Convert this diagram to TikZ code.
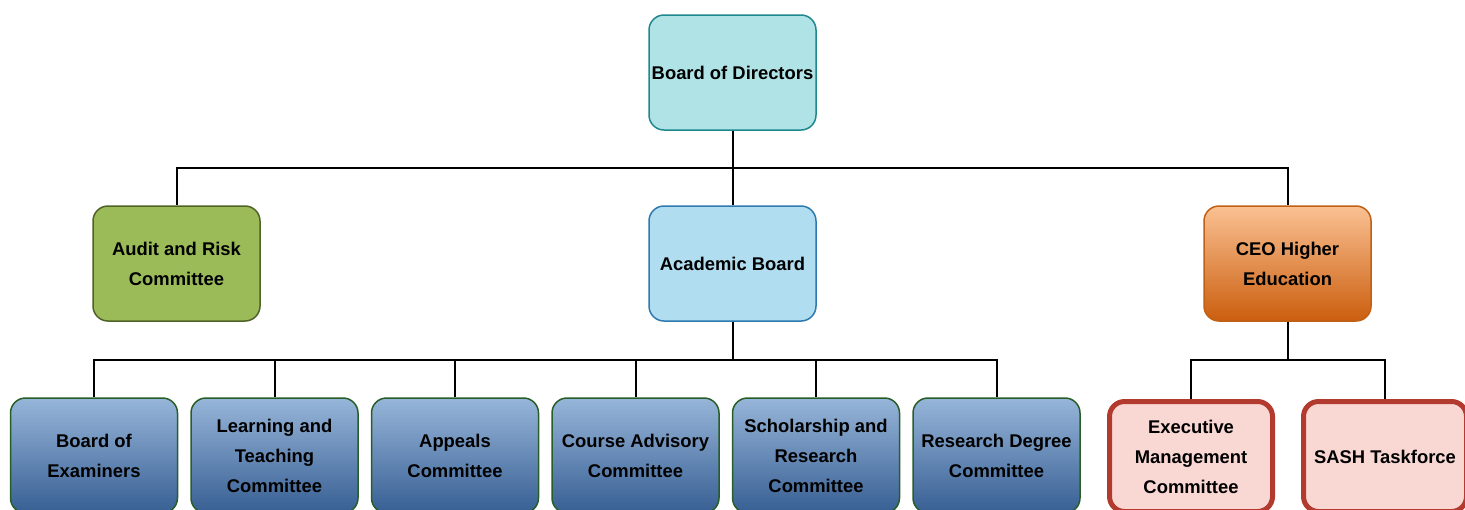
\documentclass[tikz,border=0pt]{standalone}
\usepackage{fontspec}
\setmainfont{Liberation Sans}
\usetikzlibrary{positioning,calc}

\definecolor{bodfill}{HTML}{B0E3E6}
\definecolor{boddraw}{HTML}{1F8790}
\definecolor{auditfill}{HTML}{9BBB59}
\definecolor{auditdraw}{HTML}{4F6228}
\definecolor{acadfill}{HTML}{B1DDF0}
\definecolor{acaddraw}{HTML}{2E7AAE}
\definecolor{ceotop}{HTML}{FAC193}
\definecolor{ceobot}{HTML}{CB5E0E}
\definecolor{ceodraw}{HTML}{C06015}
\definecolor{subtop}{HTML}{97B5D9}
\definecolor{subbot}{HTML}{375F93}
\definecolor{subdraw}{HTML}{275E27}
\definecolor{redfill}{HTML}{F9D8D4}
\definecolor{reddraw}{HTML}{B23A2F}

\tikzset{
  box/.style={rectangle, rounded corners=7.5pt, minimum width=83.5pt,
    minimum height=57.5pt, align=center, line width=0.75pt, inner xsep=1pt,
    font=\fontsize{9.2}{15}\selectfont\bfseries},
  bodbox/.style={box, draw=boddraw, fill=bodfill},
  auditbox/.style={box, draw=auditdraw, fill=auditfill},
  acadbox/.style={box, draw=acaddraw, fill=acadfill},
  ceobox/.style={box, draw=ceodraw, top color=ceotop, bottom color=ceobot},
  subbox/.style={box, draw=subdraw, top color=subtop, bottom color=subbot},
  redbox/.style={box, draw=reddraw, fill=redfill, line width=2.5pt,
    minimum width=81.5pt, minimum height=55pt},
  link/.style={line width=1pt}
}

\begin{document}
\begin{tikzpicture}[x=0.5pt,y=-0.5pt,node distance=90.25pt,on grid]
        \useasboundingbox (0,0) rectangle (1465,509);
        \clip (0,0) rectangle (1465,509);
        % top levels
        \node[bodbox] (bod) at (732.5,72.5) {Board of Directors};
        \node[acadbox] (acad) [below=95.5pt of bod] {Academic Board};
        \node[auditbox] (audit) [left=278pt of acad] {Audit and Risk\\Committee};
        \node[ceobox] (ceo) [right=277.5pt of acad] {CEO Higher\\Education};
        % academic board committees
        \node[subbox] (exam) at (94,455.5) {Board of\\Examiners};
        \node[subbox] (learn) [right=of exam] {Learning and\\Teaching\\Committee};
        \node[subbox] (appeals) [right=of learn] {Appeals\\Committee};
        \node[subbox] (course) [right=of appeals] {Course Advisory\\Committee};
        \node[subbox] (schol) [right=of course] {Scholarship and\\Research\\Committee};
        \node[subbox] (rdc) [right=of schol] {Research Degree\\Committee};
        % CEO committees
        \node[redbox] (exec) [below left=96.5pt and 48.25pt of ceo] {Executive\\Management\\Committee};
        \node[redbox] (sash) [right=97pt of exec] {SASH Taskforce};
        % buses
        \coordinate (bus1) at ($(bod.south)!.5!(acad.north)$);
        \coordinate (bus2) at ($(acad.south)!.5!(acad.south |- exam.north)$);
        \coordinate (bus3) at ($(ceo.south)!.5!(ceo.south |- exec.north)$);
        \foreach \n in {audit,acad,ceo}
          \draw[link] (bod.south) |- (bus1 -| \n) -- (\n.north);
        \foreach \n in {exam,learn,appeals,course,schol,rdc}
          \draw[link] (acad.south) |- (bus2 -| \n) -- (\n.north);
        \foreach \n in {exec,sash}
          \draw[link] (ceo.south) |- (bus3 -| \n) -- (\n.north);
    \end{tikzpicture}
\end{document}
